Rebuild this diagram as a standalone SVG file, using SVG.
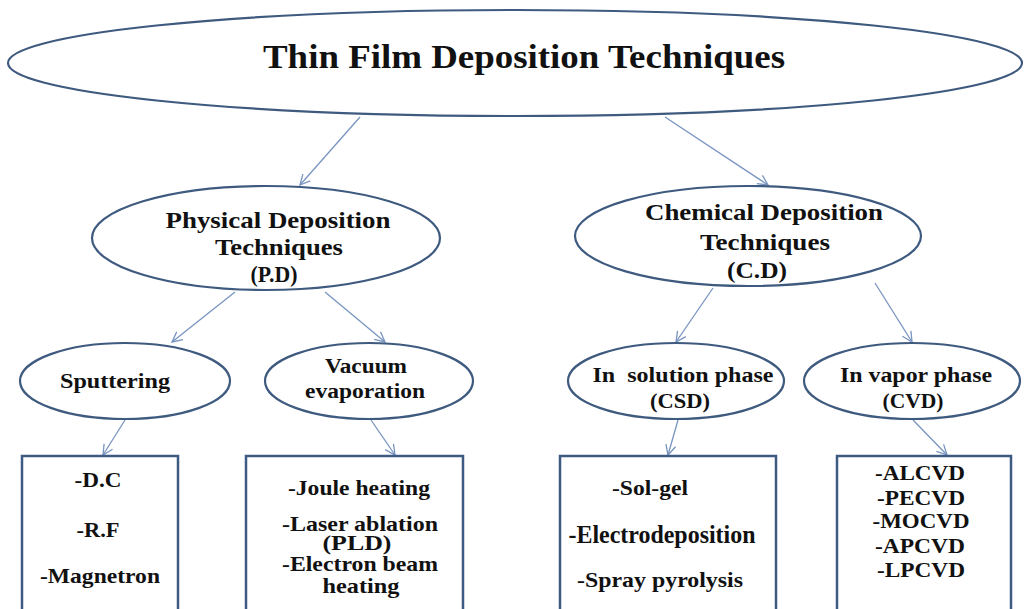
<svg xmlns="http://www.w3.org/2000/svg" width="1024" height="609" viewBox="0 0 1024 609">
<style>
.el{fill:#fff;stroke:#3f5a7f;stroke-width:2.2}
.bx{fill:#fff;stroke:#3d5a82;stroke-width:2.5}
.t{font-family:"Liberation Serif","Times New Roman",serif;font-weight:bold;fill:#111;text-anchor:middle}
.cn line{stroke:#7894c0;stroke-width:1.3;marker-end:url(#ah)}
</style>
<defs>
<marker id="ah" viewBox="0 0 12 12" refX="11" refY="6" markerWidth="12" markerHeight="12" markerUnits="userSpaceOnUse" orient="auto">
<path d="M1,1 L11,6 L1,11" fill="none" stroke="#7894c0" stroke-width="1.3"/>
</marker>
</defs>
<rect width="1024" height="609" fill="#fff"/>
<g class="cn">
<line x1="360" y1="117" x2="300" y2="185"/>
<line x1="665" y1="117" x2="768" y2="185"/>
<line x1="235" y1="292" x2="172" y2="342"/>
<line x1="325" y1="292" x2="385" y2="342"/>
<line x1="713" y1="288" x2="676" y2="342"/>
<line x1="875" y1="283" x2="912" y2="342"/>
<line x1="125" y1="420" x2="103" y2="455"/>
<line x1="371" y1="420" x2="395" y2="455"/>
<line x1="678" y1="420" x2="668" y2="455"/>
<line x1="913" y1="420" x2="947" y2="455"/>
</g>
<g id="root">
<ellipse class="el" cx="515" cy="63" rx="507" ry="53"/>
<text class="t" x="524" y="68" font-size="34" textLength="522" lengthAdjust="spacingAndGlyphs">Thin Film Deposition Techniques</text>
</g>
<g id="physical">
<ellipse class="el" cx="266" cy="238" rx="174" ry="52"/>
<text class="t" x="278" y="228" font-size="23" textLength="225" lengthAdjust="spacingAndGlyphs">Physical Deposition</text>
<text class="t" x="279" y="255" font-size="23" textLength="128" lengthAdjust="spacingAndGlyphs">Techniques</text>
<text class="t" x="274" y="282" font-size="23" textLength="47" lengthAdjust="spacingAndGlyphs">(P.D)</text>
</g>
<g id="chemical">
<ellipse class="el" cx="748" cy="236" rx="173" ry="50"/>
<text class="t" x="764" y="220" font-size="23" textLength="238" lengthAdjust="spacingAndGlyphs">Chemical Deposition</text>
<text class="t" x="765" y="250" font-size="23" textLength="130" lengthAdjust="spacingAndGlyphs">Techniques</text>
<text class="t" x="757" y="278" font-size="23" textLength="60" lengthAdjust="spacingAndGlyphs">(C.D)</text>
</g>
<g id="sputtering">
<ellipse class="el" cx="125" cy="381" rx="105" ry="38"/>
<text class="t" x="115" y="388" font-size="20" textLength="110" lengthAdjust="spacingAndGlyphs">Sputtering</text>
</g>
<g id="vacuum">
<ellipse class="el" cx="369" cy="381" rx="104" ry="38"/>
<text class="t" x="366" y="373" font-size="20" textLength="82" lengthAdjust="spacingAndGlyphs">Vacuum</text>
<text class="t" x="365" y="398" font-size="20" textLength="120" lengthAdjust="spacingAndGlyphs">evaporation</text>
</g>
<g id="solution">
<ellipse class="el" cx="676" cy="381" rx="108" ry="38"/>
<text class="t" x="683" y="382" font-size="20" textLength="181" lengthAdjust="spacingAndGlyphs" xml:space="preserve">In  solution phase</text>
<text class="t" x="680" y="408" font-size="20" textLength="60" lengthAdjust="spacingAndGlyphs">(CSD)</text>
</g>
<g id="vapor">
<ellipse class="el" cx="912" cy="381" rx="108" ry="38"/>
<text class="t" x="916" y="382" font-size="20" textLength="152" lengthAdjust="spacingAndGlyphs">In vapor phase</text>
<text class="t" x="913" y="408" font-size="20" textLength="61" lengthAdjust="spacingAndGlyphs">(CVD)</text>
</g>
<g id="box-sputtering">
<rect class="bx" x="22" y="456" width="156" height="160"/>
<text class="t" x="98" y="487" font-size="21" textLength="47" lengthAdjust="spacingAndGlyphs">-D.C</text>
<text class="t" x="98" y="537" font-size="21" textLength="43" lengthAdjust="spacingAndGlyphs">-R.F</text>
<text class="t" x="100" y="583" font-size="21" textLength="120" lengthAdjust="spacingAndGlyphs">-Magnetron</text>
</g>
<g id="box-vacuum">
<rect class="bx" x="246" y="456" width="217" height="160"/>
<text class="t" x="359" y="495" font-size="21" textLength="142" lengthAdjust="spacingAndGlyphs">-Joule heating</text>
<text class="t" x="360" y="531" font-size="21" textLength="156" lengthAdjust="spacingAndGlyphs">-Laser ablation</text>
<text class="t" x="357" y="550" font-size="20" textLength="69" lengthAdjust="spacingAndGlyphs">(PLD)</text>
<text class="t" x="360" y="571" font-size="21" textLength="156" lengthAdjust="spacingAndGlyphs">-Electron beam</text>
<text class="t" x="361" y="593" font-size="21" textLength="77" lengthAdjust="spacingAndGlyphs">heating</text>
</g>
<g id="box-solution">
<rect class="bx" x="560" y="456" width="216" height="160"/>
<text class="t" x="650" y="495" font-size="21" textLength="76" lengthAdjust="spacingAndGlyphs">-Sol-gel</text>
<text class="t" x="662" y="543" font-size="25" font-weight="normal" textLength="187" lengthAdjust="spacingAndGlyphs">-Electrodeposition</text>
<text class="t" x="660" y="587" font-size="21" textLength="166" lengthAdjust="spacingAndGlyphs">-Spray pyrolysis</text>
</g>
<g id="box-vapor">
<rect class="bx" x="837" y="456" width="174" height="160"/>
<text class="t" x="920" y="480" font-size="21" textLength="90" lengthAdjust="spacingAndGlyphs">-ALCVD</text>
<text class="t" x="921" y="505" font-size="21" textLength="88" lengthAdjust="spacingAndGlyphs">-PECVD</text>
<text class="t" x="921" y="528" font-size="21" textLength="97" lengthAdjust="spacingAndGlyphs">-MOCVD</text>
<text class="t" x="920" y="553" font-size="21" textLength="90" lengthAdjust="spacingAndGlyphs">-APCVD</text>
<text class="t" x="921" y="577" font-size="21" textLength="88" lengthAdjust="spacingAndGlyphs">-LPCVD</text>
</g>
</svg>
